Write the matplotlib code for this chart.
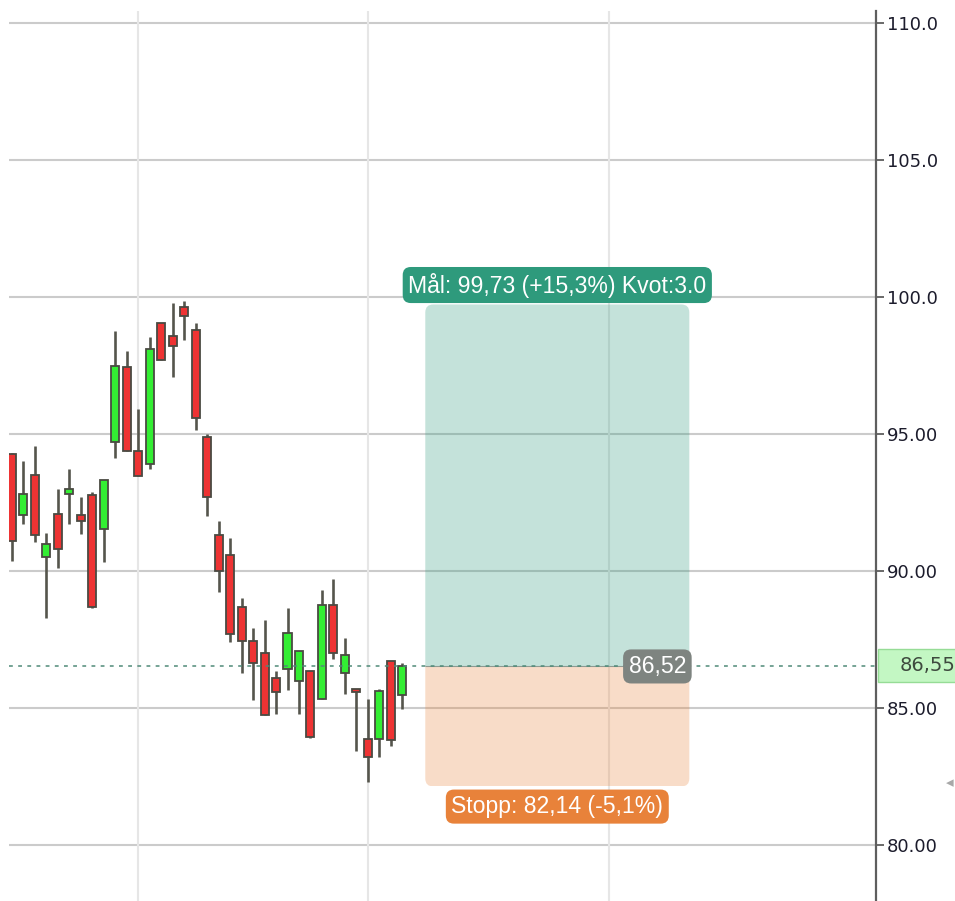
import matplotlib
matplotlib.use("Agg")
import matplotlib.pyplot as plt
from matplotlib.patches import FancyBboxPatch, Rectangle
from matplotlib.transforms import blended_transform_factory

# daily candles, oldest first
opens = [94.28, 92.04, 93.49, 90.51, 92.10, 92.83, 92.03, 92.77, 91.54, 94.72,
         97.43, 94.37, 93.92, 99.04, 98.58, 99.62, 98.80, 94.88, 91.31, 90.58,
         88.70, 87.45, 87.02, 86.11, 86.42, 85.99, 86.36, 85.32, 88.76, 86.28,
         85.71, 83.87, 83.89, 86.72, 85.48]
highs = [94.30, 94.03, 94.55, 91.39, 93.00, 93.74, 92.71, 92.87, 93.34, 98.77,
         98.04, 95.92, 98.53, 99.04, 99.79, 99.85, 99.04, 95.00, 91.84, 91.19,
         89.00, 87.91, 88.20, 86.37, 88.66, 87.08, 86.36, 89.31, 89.72, 87.54,
         85.71, 85.35, 85.71, 86.72, 86.66]
lows = [90.35, 91.73, 91.07, 88.30, 90.12, 91.72, 91.36, 88.65, 90.32, 94.13,
        94.37, 93.48, 93.74, 97.71, 97.10, 98.43, 95.16, 92.00, 89.23, 87.41,
        86.27, 85.30, 84.74, 84.80, 85.66, 84.80, 83.90, 85.32, 86.78, 85.53,
        83.43, 82.31, 83.20, 83.62, 84.96]
closes = [91.08, 92.83, 91.31, 91.00, 90.81, 93.00, 91.82, 88.69, 93.34, 97.49,
          94.37, 93.48, 98.10, 97.71, 98.22, 99.31, 95.60, 92.71, 90.00, 87.72,
          87.44, 86.65, 84.74, 85.60, 87.75, 87.08, 83.93, 88.76, 87.00, 86.94,
          85.57, 83.23, 85.63, 83.82, 86.55]

last_price = 86.55
entry = 86.52
target = 99.73
stop = 82.14
target_text = "Mål: 99,73 (+15,3%) Kvot:3.0"
stop_text = "Stopp: 82,14 (-5,1%)"
entry_text = "86,52"
last_text = "86,55"

zone_start, zone_end = 36, 59
month_lines = [11, 31, 52]
yticks = [80, 85, 90, 95, 100, 105, 110]
ytick_labels = ["80.00", "85.00", "90.00", "95.00", "100.0", "105.0", "110.0"]

W, H = 955, 901
fig = plt.figure(figsize=(W / 100, H / 100), dpi=100)
ax = fig.add_axes([9 / W, 0, (876 - 9) / W, (H - 11) / H])
ax.set_xlim(-0.26, 75.26)
ax.set_ylim(77.96, 110.44)

# grid
for y in yticks:
    ax.axhline(y, color="#cbcbcb", lw=1.5, zorder=0)
for x in month_lines:
    ax.axvline(x, color="#e6e6e6", lw=1.5, zorder=0)

# candles
idx = range(len(opens))
for i in idx:
    o, h, l, c = opens[i], highs[i], lows[i], closes[i]
    up = c >= o
    ax.vlines(i, l, h, color="#55554c", lw=1.9, zorder=2)
    bottom = min(o, c)
    height = max(abs(c - o), 0.05)
    ax.bar(i, height, bottom=bottom, width=0.7,
           color="#33ee33" if up else "#ee3333",
           edgecolor="#4a4a42", linewidth=1.3, zorder=3)

# risk / reward zones
px_x = 867 / (75.26 + 0.26)
px_y = 890 / (110.44 - 77.96)
aspect = px_x / px_y
r = 8 / px_x
for lo, hi, col in [(entry, target, "#2e9a7c"), (stop, entry, "#e8843a")]:
    box = FancyBboxPatch((zone_start, stop), zone_end - zone_start, target - stop,
                         boxstyle=f"round,pad=0,rounding_size={r}",
                         mutation_aspect=aspect, facecolor=col, alpha=0.28,
                         edgecolor="none", zorder=1)
    clip = Rectangle((zone_start - 1, lo), zone_end - zone_start + 2, hi - lo,
                     transform=ax.transData)
    ax.add_patch(box)
    box.set_clip_path(clip)
ax.hlines(entry, zone_start, zone_end, color="#8f9a92", lw=0.8, zorder=1)

# last price line
ax.axhline(last_price, color="#4f8a78", lw=1.1, ls=(0, (2.5, 3.5)), zorder=4)

lab = dict(family="Liberation Sans", fontsize=16.6, color="white", zorder=6)
mid = (zone_start + zone_end) / 2
box_style = "round,pad=0.24,rounding_size=0.35"
ax.annotate(target_text, (mid, target), xytext=(0, 14), textcoords="offset points",
            ha="center", va="center",
            bbox=dict(boxstyle=box_style, fc="#2e9a7c", ec="none"), **lab)
ax.annotate(stop_text, (mid, stop), xytext=(0, -14.5), textcoords="offset points",
            ha="center", va="center",
            bbox=dict(boxstyle=box_style, fc="#e8823a", ec="none"), **lab)
ax.annotate(entry_text, (zone_end, entry), xytext=(-23, 0), textcoords="offset points",
            ha="center", va="center",
            bbox=dict(boxstyle=box_style, fc="#7e8480", ec="none"), **lab)

# axis on the right
for s in ["top", "left", "bottom"]:
    ax.spines[s].set_visible(False)
ax.spines["right"].set_color("#5e5e5e")
ax.spines["right"].set_linewidth(1.6)
ax.set_xticks([])
ax.yaxis.tick_right()
ax.set_yticks(yticks)
ax.set_yticklabels(ytick_labels, family="DejaVu Sans", fontsize=13, color="#1c1c2c")
ax.tick_params(axis="y", direction="out", length=6, width=1.3, color="#5e5e5e", pad=2)

# last price tag on the axis
tr = blended_transform_factory(ax.transAxes, ax.transData)
ax.add_patch(Rectangle((1 + 2 / 867, last_price - 0.6), 0.2, 1.2, transform=tr,
                       facecolor="#c3f7c3", edgecolor="#96dc96", lw=1, clip_on=False, zorder=5))
ax.text(1 + 24 / 867, last_price, last_text, transform=tr, ha="left", va="center",
        family="DejaVu Sans", fontsize=14, color="#3e4a3e", clip_on=False, zorder=6)

fig.text(1 - 1 / W, 1 - 783 / H, "◂", ha="right", va="center", fontsize=11, color="#a8a8a8")

fig.savefig("out.png", dpi=100, facecolor="white")
